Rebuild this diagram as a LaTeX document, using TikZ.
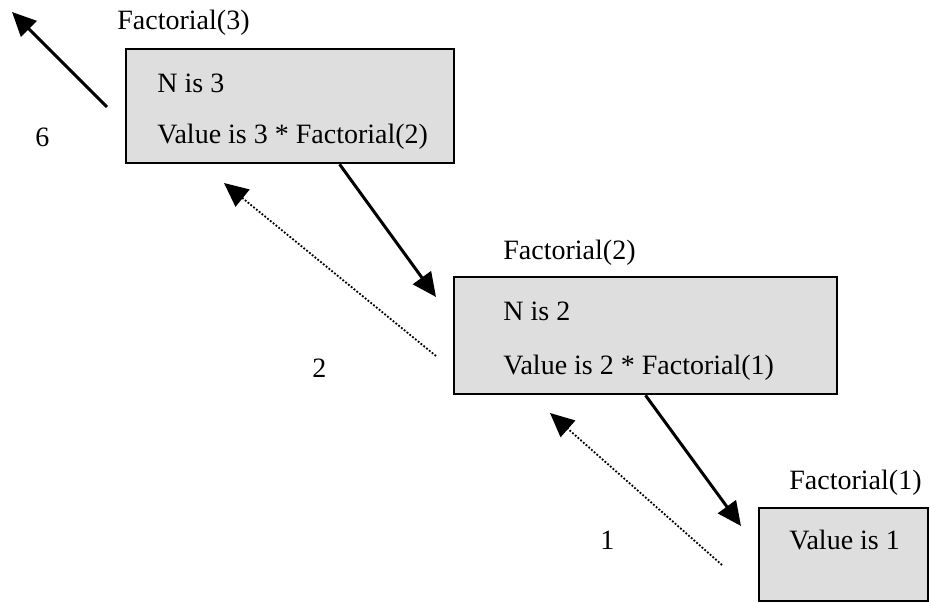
\documentclass[tikz,border=0pt]{standalone}
\usepackage{fontspec}
\setmainfont{Liberation Serif}
\usetikzlibrary{arrows.meta,fit,calc}
\tikzset{
  framebox/.style={draw=black, line width=1.3pt, fill=black!13, inner sep=0pt},
  txt/.style={anchor=west, inner sep=0pt, font=\fontsize{14}{16}\selectfont},
  callarrow/.style={line width=1.5pt, -{Triangle[length=12pt,width=11pt]}},
  retarrow/.style={line width=0.9pt, dash pattern=on 0.9pt off 0.9pt,
    -{Triangle[length=12pt,width=11pt]}}
}
\begin{document}
\begin{tikzpicture}[x=0.5pt, y=-0.5pt]
\useasboundingbox (0,0) rectangle (930,603);

% Activation records
\node[framebox, fit={(126,49) (454,163)}] (f3) {};
\node[framebox, fit={(454,277) (837,394)}] (f2) {};
\node[framebox, fit={(759,508) (928,601)}] (f1) {};

% Titles
\node[txt] (t3) at (117,23) {Factorial(3)};
\node[txt] (t2) at (503,253) {Factorial(2)};
\node[txt] (t1) at (789,483) {Factorial(1)};

% Contents
\node[txt] (n3) at (157,83) {N is 3};
\node[txt] (v3) at (157,137) {Value is 3 * Factorial(2)};
\node[txt] (n2) at (503,311) {N is 2};
\node[txt] (v2) at (503,368) {Value is 2 * Factorial(1)};
\node[txt] (v1) at (789,540) {Value is 1};

% Returned values
\node[txt] (r6) at (35,137) {6};
\node[txt] (r2) at (312,368) {2};
\node[txt] (r1) at (600,540) {1};

% Arrow end points
\coordinate (a6s) at (107,107);
\coordinate (a6e) at (12,12);
\coordinate (c3s) at ($(f3.south west)!0.65!(f3.south east)$);
\coordinate (c3e) at (436,297);
\coordinate (c2e) at (741,526);
\coordinate (b2s) at (436,356);
\coordinate (b2e) at (224,183);
\coordinate (b1s) at (722,565);
\coordinate (b1e) at (550,413);

% Calls
\draw[callarrow] (c3s) -- (c3e);
\draw[callarrow] (f2.south) -- (c2e);
% Returns
\draw[callarrow] (a6s) -- (a6e);
\draw[retarrow] (b2s) -- (b2e);
\draw[retarrow] (b1s) -- (b1e);
\end{tikzpicture}
\end{document}
